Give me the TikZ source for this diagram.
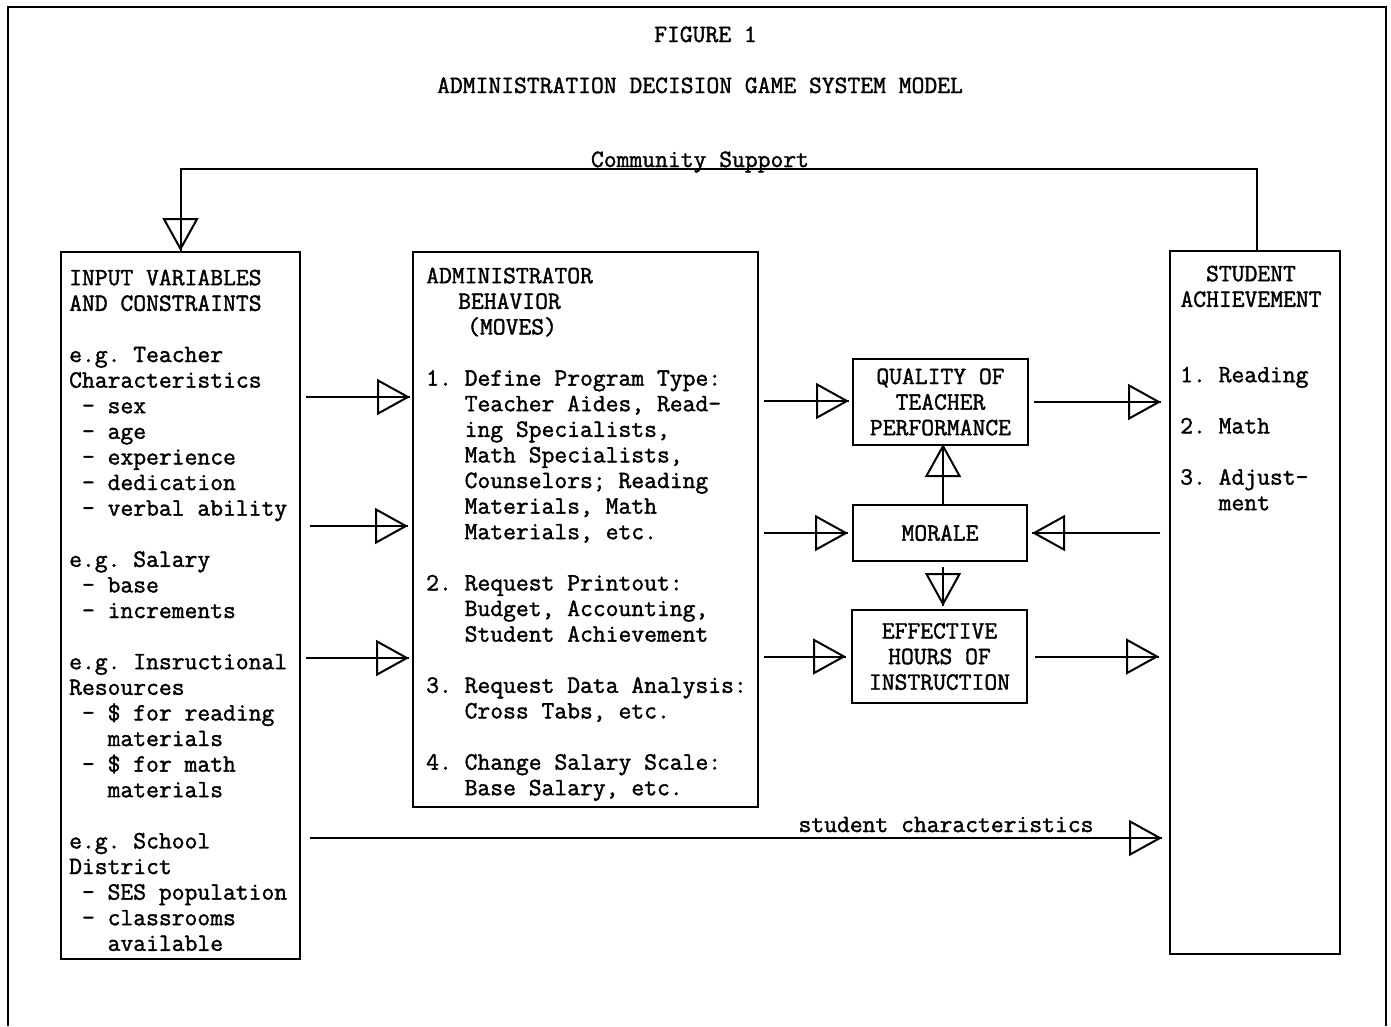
\documentclass[tikz,border=0pt]{standalone}
\usepackage{fontspec}
\setmonofont{Latin Modern Mono}[FakeBold=1.5]
\usetikzlibrary{arrows.meta,calc}
\newcommand\tf{\ttfamily\fontsize{24.9}{25.6}\selectfont\frenchspacing}
\newcommand\flow[2]{\draw[ln] #1 -- #2; \draw[ln,tip] #1 -- #2;}
\begin{document}
\begin{tikzpicture}[x=1pt,y=-1pt,
  ln/.style={line width=2pt},
  box/.style={draw, line width=2pt, inner sep=0pt, font=\tf, align=center},
  txt/.style={font=\tf, inner sep=0pt, align=left, anchor=north west},
  ctxt/.style={font=\tf, inner sep=0pt, align=center},
  tip/.style={-{Triangle[open, length=33pt, width=36pt]}}]
\useasboundingbox (0,0) rectangle (1391,1026);
% frame
\draw[ln] (8,1026) -- (8,7) -- (1386,7) -- (1386,1026);
% titles
\node[ctxt, anchor=base] (fig) at (705.5,42) {FIGURE 1};
\node[ctxt, anchor=base] (ttl) at (700,93) {ADMINISTRATION DECISION GAME SYSTEM MODEL};
% boxes
\node[box, minimum width=239pt, minimum height=707pt] (inbox) at (180.5,605.5) {};
\node[box, minimum width=345pt, minimum height=555pt] (admin) at (585.5,529.5) {};
\node[box, minimum width=170pt, minimum height=703pt] (stud) at (1255,602.5) {};
\node[box, minimum width=175pt, minimum height=86pt] (qual) at (940.5,402) {QUALITY OF\\TEACHER\\PERFORMANCE};
\node[box, minimum width=174pt, minimum height=56pt] (mor) at (940,533) {MORALE};
\node[box, minimum width=175pt, minimum height=93pt] (eff) at (939.5,656.5) {EFFECTIVE\\HOURS OF\\INSTRUCTION};
% texts
\node[txt] (intxt) at (69,267.1) {\strut INPUT VARIABLES\\
AND CONSTRAINTS\\[25.6pt]
e.g. Teacher\\
Characteristics\\
\phantom{x}- sex\\
\phantom{x}- age\\
\phantom{x}- experience\\
\phantom{x}- dedication\\
\phantom{x}- verbal ability\\[25.6pt]
e.g. Salary\\
\phantom{x}- base\\
\phantom{x}- increments\\[25.6pt]
e.g. Insructional\\
Resources\\
\phantom{x}- \$ for reading\\
\phantom{xxx}materials\\
\phantom{x}- \$ for math\\
\phantom{xxx}materials\\[25.6pt]
e.g. School\\
District\\
\phantom{x}- SES population\\
\phantom{x}- classrooms\\
\phantom{xxx}available};
\node[txt] (admtxt) at (426,265.1) {\strut ADMINISTRATOR\\
\hspace*{32pt}BEHAVIOR\\
\hspace*{41pt}(MOVES)\\[25.6pt]
1. Define Program Type:\\
\phantom{xxx}Teacher Aides, Read-\\
\phantom{xxx}ing Specialists,\\
\phantom{xxx}Math Specialists,\\
\phantom{xxx}Counselors; Reading\\
\phantom{xxx}Materials, Math\\
\phantom{xxx}Materials, etc.\\[25.6pt]
2. Request Printout:\\
\phantom{xxx}Budget, Accounting,\\
\phantom{xxx}Student Achievement\\[25.6pt]
3. Request Data Analysis:\\
\phantom{xxx}Cross Tabs, etc.\\[25.6pt]
4. Change Salary Scale:\\
\phantom{xxx}Base Salary, etc.};
\node[ctxt, anchor=north] (sthead) at (1251,263.1) {\strut STUDENT\\ACHIEVEMENT};
\node[txt] (stlist) at (1180,364.1) {\strut 1. Reading\\[25.6pt]
2. Math\\[25.6pt]
3. Adjust-\\
\phantom{xxx}ment};
% community support
\coordinate (cs) at (700,169);
\node[ctxt, anchor=base] (cslab) at (700,167) {Community Support};
\draw[ln] ([xshift=2pt]stud.north) |- (cs) -| (inbox.north);
\draw[ln,tip] (cs -| inbox.north) -- (inbox.north);
% rows
\coordinate (r1) at (0,397);
\coordinate (r2) at (0,526);
\coordinate (r3) at (0,658);
\coordinate (r4) at (0,401);
\coordinate (r5) at (0,838);
\flow{($(inbox.east|-r1)+(5,0)$)}{($(admin.west|-r1)+(-2,0)$)}
\flow{($(inbox.east|-r2)+(9,0)$)}{($(admin.west|-r2)+(-4,0)$)}
\flow{($(inbox.east|-r3)+(5,0)$)}{($(admin.west|-r3)+(-3,0)$)}
\flow{($(admin.east|-r4)+(5,0)$)}{($(qual.west|-r4)+(-3,0)$)}
\flow{($(admin.east|-mor.west)+(5,0)$)}{($(mor.west)+(-4,0)$)}
\flow{($(admin.east|-eff.west)+(5,0)$)}{($(eff.west)+(-5,0)$)}
\flow{($(qual.east)+(5,0)$)}{($(stud.west|-qual.east)+(-8,0)$)}
\flow{($(eff.east)+(7,0)$)}{($(stud.west|-eff.east)+(-10,0)$)}
\flow{($(stud.west|-mor.east)+(-9,0)$)}{($(mor.east)+(4,0)$)}
\flow{($(mor.north)+(3,0)$)}{($(qual.south|-qual.south)+(2.5,-2)$)}
\flow{($(mor.south)+(3,5)$)}{($(eff.north)+(3.5,-3)$)}
\flow{($(inbox.east|-r5)+(9,0)$)}{($(stud.west|-r5)+(-7,0)$)}
\node[ctxt, anchor=base] (sclab) at (946,832) {student characteristics};
\end{tikzpicture}
\end{document}
